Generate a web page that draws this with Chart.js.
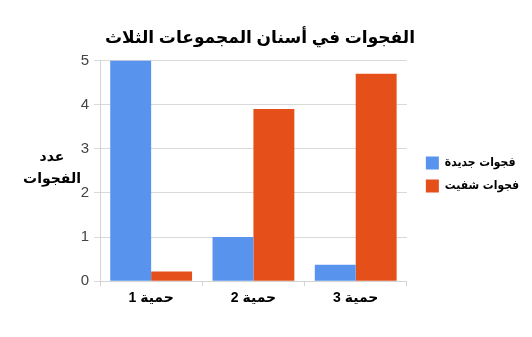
<!DOCTYPE html>
<html>
<head>
<meta charset="utf-8">
<script src="https://cdn.jsdelivr.net/npm/chart.js@4.4.0/dist/chart.umd.min.js"></script>
<style>
    html, body { margin: 0; padding: 0; background: #ffffff; }
    #wrap { width: 532px; height: 337px; }
</style>
</head>
<body>
<div id="wrap"><canvas id="chart"></canvas></div>
<script>
// データ
const categories = ['حمية 1', 'حمية 2', 'حمية 3'];
const newCavities = [5, 1.0, 0.37];
const healedCavities = [0.22, 3.9, 4.7];
const seriesNames = ['فجوات جديدة', 'فجوات شفيت'];
const yTicks = [0, 1, 2, 3, 4, 5];
const chartTitle = 'الفجوات في أسنان المجموعات الثلاث';
const yTitleLines = ['عدد', 'الفجوات'];

const FONT = "Arial, 'Liberation Sans', 'DejaVu Sans', sans-serif";
const NARROW = "'DejaVu Sans Condensed', 'DejaVu Sans', sans-serif";

// 縦軸タイトル（横書き）と凡例の位置調整
const yTitlePlugin = {
    id: 'yTitle',
    afterLayout(chart) {
        // 凡例をプロット領域から少し離す
        chart.legend.left = chart.chartArea.right + 9;
    },
    afterDraw(chart) {
        const ctx = chart.ctx;
        ctx.save();
        ctx.font = 'bold 14px ' + FONT;
        ctx.fillStyle = '#000000';
        ctx.textAlign = 'center';
        ctx.textBaseline = 'middle';
        yTitleLines.forEach((line, i) => {
            ctx.fillText(line, 52, 157 + i * 22);
        });
        ctx.restore();
    }
};

new Chart(document.getElementById('chart'), {
    type: 'bar',
    data: {
        labels: categories,
        datasets: [
            {
                label: seriesNames[0],
                data: newCavities,
                backgroundColor: '#5894ee',
                categoryPercentage: 0.8,
                barPercentage: 1.0
            },
            {
                label: seriesNames[1],
                data: healedCavities,
                backgroundColor: '#e5501a',
                categoryPercentage: 0.8,
                barPercentage: 1.0
            }
        ]
    },
    options: {
        responsive: true,
        maintainAspectRatio: false,
        animation: false,
        layout: {
            padding: { left: 0, right: 12, top: 0, bottom: 26 }
        },
        plugins: {
            title: {
                display: true,
                text: chartTitle,
                color: '#000000',
                font: { family: FONT, size: 17, weight: 'bold' },
                padding: { top: 28, bottom: 12 }
            },
            legend: {
                position: 'right',
                title: {
                    display: true,
                    text: ' ',
                    font: { size: 10 },
                    padding: { top: 26, bottom: 0 }
                },
                labels: {
                    boxWidth: 13,
                    boxHeight: 13,
                    padding: 10,
                    color: '#000000',
                    font: { family: NARROW, size: 12, weight: 'bold' }
                }
            },
            tooltip: { enabled: false }
        },
        scales: {
            x: {
                offset: true,
                grid: {
                    offset: true,
                    color: ctx => (ctx.index === 3 ? '#d4d4d4' : 'rgba(0,0,0,0)'),
                    tickColor: '#d4d4d4',
                    tickLength: 5
                },
                border: { color: '#d4d4d4' },
                ticks: {
                    color: '#000000',
                    padding: 4,
                    font: { family: FONT, size: 14, weight: 'bold' }
                }
            },
            y: {
                min: 0,
                max: 5,
                afterFit: scale => { scale.width = 100; },
                afterBuildTicks: scale => { scale.ticks = yTicks.map(v => ({ value: v })); },
                grid: {
                    color: '#d9d9d9',
                    tickColor: '#d9d9d9',
                    tickLength: 6
                },
                border: { color: '#d4d4d4' },
                ticks: {
                    color: '#444444',
                    padding: 5,
                    font: { family: FONT, size: 15 }
                }
            }
        }
    },
    plugins: [yTitlePlugin]
});
</script>
</body>
</html>
